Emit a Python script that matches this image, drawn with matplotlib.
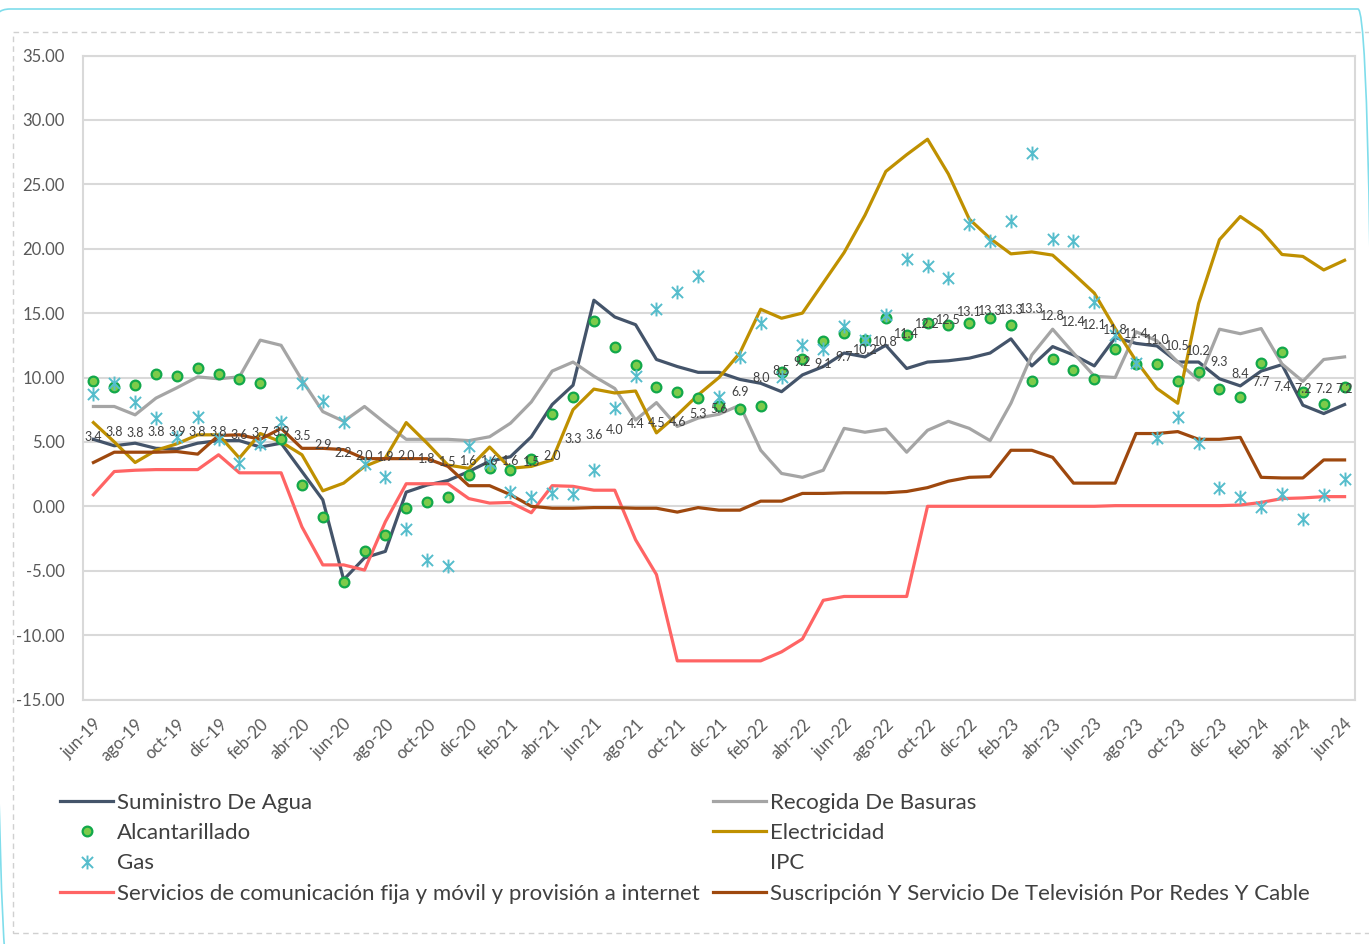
import numpy as np
import matplotlib
matplotlib.use('Agg')
import matplotlib.pyplot as plt
from matplotlib.path import Path
from matplotlib.patches import FancyBboxPatch, Rectangle
from matplotlib.transforms import IdentityTransform

plt.rcParams['font.family'] = ['Lato', 'DejaVu Sans']

# months jun-19 .. jun-24
mes = ['ene', 'feb', 'mar', 'abr', 'may', 'jun', 'jul', 'ago', 'sep', 'oct', 'nov', 'dic']
months = [mes[(5 + i) % 12] + '-' + str(19 + (5 + i) // 12) for i in range(61)]

agua = [5.2, 4.7, 4.9, 4.5, 4.45, 4.9, 5.1, 5.1, 4.6, 4.9, 2.7, 0.5, -5.7, -4.0, -3.5, 1.1,
        1.65, 2.0, 2.7, 3.5, 3.85, 5.4, 7.9, 9.4, 16.0, 14.7, 14.1, 11.4, 10.85, 10.4, 10.4,
        9.85, 9.55, 8.9, 10.2, 10.85, 11.9, 11.6, 12.5, 10.7, 11.2, 11.3, 11.5, 11.9, 13.0,
        10.9, 12.4, 11.75, 10.9, 13.1, 12.65, 12.45, 11.2, 11.2, 9.9, 9.35, 10.5, 11.0, 7.85,
        7.2, 7.9]
basuras = [7.75, 7.75, 7.1, 8.4, 9.2, 10.05, 9.9, 10.05, 12.9, 12.5, 9.8, 7.35, 6.6, 7.75,
           6.45, 5.2, 5.2, 5.2, 5.1, 5.4, 6.45, 8.1, 10.5, 11.2, 10.1, 9.15, 6.7, 8.05, 6.2,
           6.85, 7.15, 7.85, 4.35, 2.55, 2.25, 2.8, 6.05, 5.75, 6.0, 4.2, 5.9, 6.6, 6.05, 5.1,
           8.0, 11.75, 13.75, 11.9, 10.1, 10.0, 13.55, 12.85, 11.2, 9.8, 13.75, 13.4, 13.8,
           11.05, 9.7, 11.4, 11.6]
alcantarillado = [9.75, 9.25, 9.4, 10.3, 10.15, 10.7, 10.3, 9.9, 9.6, 5.2, 1.65, -0.85, -5.9,
                  -3.45, -2.2, -0.15, 0.3, 0.7, 2.45, 2.95, 2.85, 3.7, 7.2, 8.5, 14.4, 12.4,
                  11.0, 9.25, 8.9, 8.4, 7.8, 7.55, 7.75, 10.45, 11.4, 12.8, 13.45, 12.9, 14.6,
                  13.3, 14.2, 14.1, 14.25, 14.6, 14.1, 9.7, 11.4, 10.6, 9.9, 12.2, 11.05, 11.05,
                  9.7, 10.4, 9.1, 8.5, 11.1, 11.95, 8.9, 7.95, 9.3]
electricidad = [6.5, 5.0, 3.4, 4.35, 4.85, 5.55, 5.55, 3.75, 5.65, 5.0, 4.0, 1.2, 1.8, 3.1,
                3.75, 6.5, 4.9, 3.2, 2.95, 4.6, 2.95, 3.1, 3.6, 7.5, 9.1, 8.8, 8.95, 5.7, 7.1,
                8.65, 10.0, 11.9, 15.3, 14.6, 15.0, 17.35, 19.7, 22.6, 26.0, 27.3, 28.5, 25.8,
                22.3, 20.8, 19.6, 19.75, 19.5, 18.05, 16.55, 13.8, 11.3, 9.15, 8.0, 15.75, 20.7,
                22.5, 21.4, 19.55, 19.4, 18.35, 19.1]
gas = [8.7, 9.6, 8.1, 6.85, 5.35, 6.95, 5.2, 3.4, 4.85, 6.55, 9.55, 8.2, 6.55, 3.3, 2.25,
       -1.8, -4.2, -4.65, 4.65, 3.4, 1.1, 0.75, 1.0, 0.95, 2.85, 7.6, 10.1, 15.3, 16.6, 17.85,
       8.45, 11.6, 14.2, 10.05, 12.5, 12.25, 14.0, 12.9, 14.85, 19.2, 18.65, 17.7, 21.9, 20.6,
       22.15, 27.4, 20.75, 20.6, 15.85, 13.3, 11.1, 5.3, 6.95, 4.9, 1.4, 0.75, -0.05, 0.95,
       -1.0, 0.9, 2.15]
ipc = [3.43, 3.79, 3.75, 3.82, 3.86, 3.84, 3.80, 3.62, 3.72, 3.86, 3.51, 2.85, 2.19, 1.97,
       1.88, 1.97, 1.75, 1.49, 1.61, 1.60, 1.56, 1.51, 1.95, 3.30, 3.63, 3.97, 4.44, 4.51,
       4.58, 5.26, 5.62, 6.94, 8.01, 8.53, 9.23, 9.07, 9.67, 10.21, 10.84, 11.44, 12.22,
       12.53, 13.12, 13.25, 13.28, 13.34, 12.82, 12.36, 12.13, 11.78, 11.43, 10.99, 10.48,
       10.15, 9.28, 8.35, 7.74, 7.36, 7.16, 7.16, 7.18]
comunicacion = [0.9, 2.7, 2.8, 2.85, 2.85, 2.85, 4.0, 2.6, 2.6, 2.6, -1.6, -4.55, -4.55, -4.95,
                -1.2, 1.75, 1.75, 1.75, 0.6, 0.25, 0.3, -0.5, 1.6, 1.55, 1.25, 1.25, -2.6,
                -5.3, -12.0, -12.0, -12.0, -12.0, -12.0, -11.3, -10.3, -7.3, -7.0, -7.0, -7.0,
                -7.0, 0.0, 0.0, 0.0, 0.0, 0.0, 0.0, 0.0, 0.0, 0.0, 0.05, 0.05, 0.05, 0.05,
                0.05, 0.05, 0.1, 0.3, 0.6, 0.65, 0.75, 0.75]
television = [3.4, 4.2, 4.2, 4.2, 4.25, 4.05, 5.5, 5.55, 5.2, 6.05, 4.5, 4.5, 4.4, 3.7, 3.7,
              3.7, 3.7, 3.1, 1.6, 1.6, 0.9, 0.0, -0.15, -0.15, -0.1, -0.1, -0.15, -0.15,
              -0.45, -0.1, -0.3, -0.3, 0.4, 0.4, 1.0, 1.0, 1.05, 1.05, 1.05, 1.15, 1.45, 1.95,
              2.25, 2.3, 4.35, 4.35, 3.8, 1.8, 1.8, 1.8, 5.65, 5.65, 5.8, 5.2, 5.2, 5.35, 2.25,
              2.2, 2.2, 3.6, 3.6]

W, H = 1369, 944
fig = plt.figure(figsize=(W / 100, H / 100), dpi=100)
ax = fig.add_axes([83 / W, 1 - 699.5 / H, (1355 - 83) / W, (699.5 - 55.5) / H])

x = np.arange(len(months))
lw = 2.3

# asterisk marker like the spreadsheet one
star = Path([(0, -1), (0, 1), (-0.8, -0.8), (0.8, 0.8), (-0.8, 0.8), (0.8, -0.8)],
            [Path.MOVETO, Path.LINETO] * 3)

h_agua, = ax.plot(x, agua, color='#44546A', lw=lw, label='Suministro De Agua', zorder=3)
h_bas, = ax.plot(x, basuras, color='#A5A5A5', lw=lw, label='Recogida De Basuras', zorder=3)
h_alc, = ax.plot(x, alcantarillado, ls='none', marker='o', ms=7, mfc='#7DCB4A',
                 mec='#12A84A', mew=1.6, label='Alcantarillado', zorder=5)
h_ele, = ax.plot(x, electricidad, color='#BF9000', lw=lw, label='Electricidad', zorder=3)
h_gas, = ax.plot(x, gas, ls='none', marker=star, ms=10, mec='#55BDCC', mew=1.4,
                 label='Gas', zorder=6)
h_ipc, = ax.plot(x, ipc, ls='none', marker='none', label='IPC')
h_com, = ax.plot(x, comunicacion, color='#FF6464', lw=lw,
                 label='Servicios de comunicación fija y móvil y provisión a internet', zorder=3)
h_tv, = ax.plot(x, television, color='#9E480E', lw=lw,
                label='Suscripción Y Servicio De Televisión Por Redes Y Cable', zorder=3)

for i, v in enumerate(ipc):
    ax.annotate('%.1f' % (v + 1e-6), (x[i], v), xytext=(0, 18), textcoords='offset points',
                ha='center', va='center', fontsize=9, color='#404040', zorder=7)

ax.set_xlim(-0.5, len(months) - 0.5)
ax.set_ylim(-15, 35)
ax.set_yticks(np.arange(-15, 36, 5))
ax.set_yticklabels(['%.2f' % t for t in np.arange(-15, 36, 5)])
ax.set_xticks(x[::2])
ax.set_xticklabels(months[::2], rotation=45, ha='right', rotation_mode='anchor')
ax.tick_params(length=0, labelsize=12, labelcolor='#595959')
ax.tick_params(axis='y', pad=13)
ax.tick_params(axis='x', pad=12)
ax.grid(axis='y', color='#D9D9D9', lw=1.5)
ax.set_axisbelow(True)
for s in ax.spines.values():
    s.set_color('#D9D9D9')
    s.set_linewidth(1.5)

leg_kw = dict(frameon=False, fontsize=16, handlelength=2.4, handletextpad=0.18,
              labelspacing=0.46, borderpad=0, borderaxespad=0, numpoints=1,
              labelcolor='#404040')
leg1 = fig.legend(handles=[h_agua, h_alc, h_gas, h_com], loc='upper left',
                  bbox_to_anchor=(60 / W, 1 - 793 / H), **leg_kw)
leg2 = fig.legend(handles=[h_bas, h_ele, h_ipc, h_tv], loc='upper left',
                  bbox_to_anchor=(713 / W, 1 - 793 / H), **leg_kw)

# chart frame decorations
fig.patches.append(Rectangle((13, 944 - 933), 1400, 933 - 32, transform=IdentityTransform(),
                             fill=False, ec='#D0D0D0', lw=1, ls=(0, (4, 3))))
fig.patches.append(FancyBboxPatch((-6, -40), 1380, 944 - 9 + 40, transform=IdentityTransform(),
                                  boxstyle='round,pad=0,rounding_size=16', fill=False,
                                  ec='#7FDDEB', lw=1.2))

fig.savefig('out.png', dpi=100)
